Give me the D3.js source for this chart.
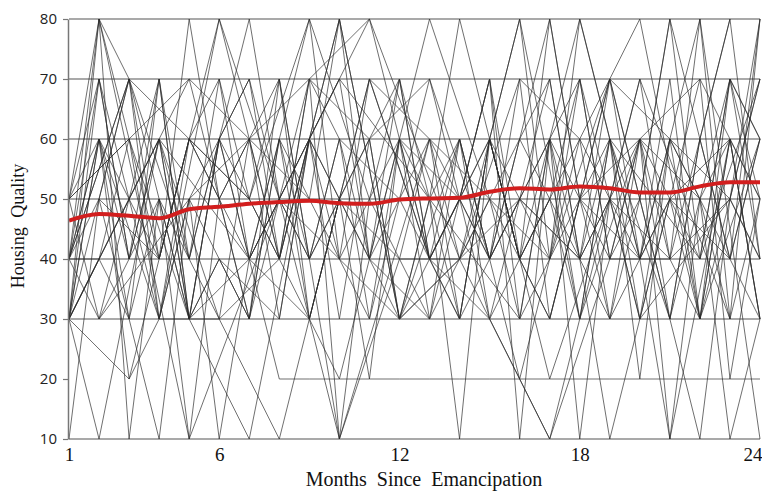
<!DOCTYPE html>
<html>
<head>
<meta charset="utf-8">
<script src="https://cdn.jsdelivr.net/npm/d3@7"></script>
<style>
    body { margin: 0; background: #fff; }
    svg { display: block; }
</style>
</head>
<body>
<svg id="chart"></svg>
<script>
const xTicks = [1, 6, 12, 18, 24];
const yTicks = [10, 20, 30, 40, 50, 60, 70, 80];
const gridValues = [10, 30, 40, 50, 60, 70, 80];

// smoothed mean (red line), month 1..24
const meanQuality = [46.4, 47.5, 47.2, 46.8, 48.3, 48.7, 49.2, 49.5, 49.7, 49.3, 49.2, 49.9,
    50.1, 50.2, 51.2, 51.8, 51.6, 52.1, 51.8, 51.1, 51.1, 52.1, 52.8, 52.8];

// individual youth trajectories, month 1..24 (null = not observed)
const subjects = [
    [50, 80, 70, 40, 60, 50, null, 70, 40, 60, null, 50, 70, null, 40, 60, 80, 50, null, 40, 70, 30, 60, 50],
    [30, 10, null, 60, 40, 70, 50, null, 80, 40, 30, 60, null, 50, 70, 40, null, 60, 30, 50, 80, 40, 70, 60],
    [40, 60, 30, 10, 50, null, 60, 40, 70, 10, null, 40, 60, 30, null, 50, 70, 40, 60, null, 30, 60, 40, 80],
    [10, 50, 70, null, 40, 30, 60, null, 50, 80, 40, null, 30, 60, 40, 70, 30, 50, null, 60, 40, 80, 30, 50],
    [40, 60, 20, 30, 60, null, 50, 70, 30, 20, 40, 30, 50, 80, null, 40, 60, 10, 50, 30, 60, 50, 70, 40],
    [30, 60, 40, 70, 30, 40, null, 30, 60, 40, 70, null, 40, 30, 60, 80, 40, 70, 40, 60, 10, 50, 40, 60],
    [40, 30, 50, 40, 80, 50, 30, 60, 40, null, 60, 70, 40, 60, 30, 50, null, 40, 70, 50, 30, 60, 80, 40],
    [50, 70, 40, 60, 30, 60, 80, 50, null, 70, 40, 50, 60, 40, 50, 30, 60, 40, 50, 70, 40, 30, 50, 70],
    [30, 40, 60, 30, 50, 10, 40, 60, 30, 50, 20, 60, 30, 50, 40, 60, 50, 30, 60, 40, 50, 70, 20, 50],
    [40, 50, 30, 50, 40, 60, 40, 20, 20, 20, 20, 20, 20, 20, 20, 20, 20, 20, 20, 20, 20, 20, 20, 20],
    [50, null, 60, null, 70, null, 60, null, 70, null, 60, null, 70, null, 30, null, 50, null, 30, null, 50, null, 60, 30],
    [30, 70, null, 30, null, 80, null, 50, null, 40, null, 30, null, 40, null, 50, null, 40, null, 60, null, 70, null, 50],
    [40, 80, 10, 50, 30, 60, 50, 40, 70, 60, 40, 60, 50, 10, 60, 40, 50, 70, 40, 60, 50, 30, 60, 30],
    [50, null, 60, null, 30, null, 40, null, 80, null, 50, null, 30, null, 50, null, 40, null, 70, null, 60, null, 50, 70],
    [30, 50, 70, 30, 50, 40, 30, 70, 40, 10, 50, 60, 40, 50, 70, 30, 60, 50, 40, 50, 80, 60, 40, 30],
    [40, 70, 40, 50, 10, 50, 60, 30, 60, 50, 40, 70, 50, 30, 60, 50, 40, 80, 60, 40, 60, 30, 70, 60],
    [30, null, 50, null, 70, null, 30, null, 70, null, 80, null, 40, null, 30, null, 10, null, 40, null, 40, null, 50, 40],
    [50, 60, null, 30, null, 30, null, 40, null, 80, null, 30, null, 40, null, 80, null, 30, null, 60, null, 50, 10, 30],
    [40, null, 70, null, 60, null, 40, null, 30, null, 70, null, 60, null, 50, null, 70, null, 10, null, 50, null, 40, 60],
    [30, 40, 30, 70, 40, 60, 70, 40, 60, 30, 60, 30, 50, 60, 40, 50, 60, 30, 60, 20, 60, 50, 30, 80],
    [50, 30, 40, 60, 30, 40, 30, 60, 50, 40, 50, 70, 40, 30, 60, 40, 80, 50, 30, 60, 30, 10, 50, 40],
    [30, null, null, 60, null, null, 40, null, null, 70, null, null, 50, null, null, 30, null, null, 60, null, null, 40, null, 70],
    [null, 80, null, null, 10, null, null, 50, null, null, 80, null, null, 40, null, null, 10, null, null, 70, null, null, 30, null],
    [40, null, 70, null, 30, null, 10, null, 60, null, 40, null, 80, null, 50, null, 30, null, 70, null, 10, null, 60, null],
    [null, 50, null, 40, null, 80, null, 40, null, 80, null, 30, null, 60, null, 20, null, 60, null, 40, null, 80, null, 10],
    [30, null, 20, null, 60, null, 50, null, 30, null, 70, null, 40, null, 60, null, 20, null, 50, null, 40, null, 80, null],
    [null, 30, null, null, 50, null, 70, null, null, 10, null, null, 60, null, 40, null, null, 70, null, 30, null, null, 50, 80],
    [30, 60, 50, 70, 30, 60, 40, 50, 40, 50, 60, 30, 40, 50, 70, 10, 60, 80, 60, 30, 50, 40, 70, 50],
    [30, 80, 60, 40, 60, 70, 40, 50, 40, 60, 30, 50, 40, 50, 60, 40, 30, 50, 70, 50, 30, 50, 60, 30],
    [40, 40, null, 60, null, 30, null, 10, null, 50, null, 40, null, 40, null, 70, null, 60, null, 80, null, 30, null, 60]
];

const svgWidth = 762;
const svgHeight = 492;

const xScale = d3.scaleLinear().domain([1, 24]).range([69, 760]);
const yScale = d3.scaleLinear().domain([10, 80]).range([439, 19]);

const svg = d3.select("#chart")
    .attr("width", svgWidth)
    .attr("height", svgHeight);

// horizontal reference lines
svg.selectAll(".grid")
    .data(gridValues)
    .enter()
    .append("line")
    .attr("class", "grid")
    .attr("x1", xScale(1))
    .attr("x2", xScale(24))
    .attr("y1", d => yScale(d))
    .attr("y2", d => yScale(d))
    .attr("stroke", "#8c8c8c")
    .attr("stroke-width", 1.6);

const line = d3.line()
    .x(d => xScale(d.month))
    .y(d => yScale(d.value));

svg.selectAll(".subject")
    .data(subjects)
    .enter()
    .append("path")
    .attr("class", "subject")
    .attr("d", s => line(s.map((v, i) => ({ month: i + 1, value: v })).filter(p => p.value !== null)))
    .attr("fill", "none")
    .attr("stroke", "#2a2a2a")
    .attr("stroke-width", 0.85)
    .attr("stroke-opacity", 0.8);

// mean trend
const meanLine = d3.line()
    .x((d, i) => xScale(i + 1))
    .y(d => yScale(d))
    .curve(d3.curveMonotoneX);

svg.append("path")
    .datum(meanQuality)
    .attr("d", meanLine)
    .attr("fill", "none")
    .attr("stroke", "#d21e1e")
    .attr("stroke-width", 4);

// axes
const yAxis = svg.append("g")
    .attr("transform", "translate(68, 0)")
    .call(d3.axisLeft(yScale).tickValues(yTicks).tickSize(5).tickPadding(6).tickSizeOuter(0));

yAxis.select(".domain").attr("stroke", "#777").attr("stroke-width", 1.5);
yAxis.selectAll(".tick line").attr("stroke", "#777").attr("stroke-width", 1.2);
yAxis.selectAll("text")
    .attr("fill", "#222")
    .style("font-family", "'Open Sans', sans-serif")
    .style("font-size", "15px");

const xAxis = svg.append("g")
    .attr("transform", `translate(0, ${yScale(10)})`)
    .call(d3.axisBottom(xScale).tickValues(xTicks).tickSize(0).tickPadding(9).tickFormat(d3.format("d")));

xAxis.select(".domain").remove();
xAxis.selectAll("text")
    .attr("fill", "#111")
    .style("font-family", "'Liberation Serif', 'Times New Roman', serif")
    .style("font-size", "19px");

// last label sits against the right edge
xAxis.selectAll(".tick")
    .filter(d => d === 24)
    .select("text")
    .attr("text-anchor", "end")
    .attr("x", 2);

svg.append("text")
    .attr("x", 424)
    .attr("y", 486)
    .attr("text-anchor", "middle")
    .style("font-family", "'Liberation Serif', 'Times New Roman', serif")
    .style("font-size", "20px")
    .style("word-spacing", "5px")
    .attr("fill", "#111")
    .text("Months Since Emancipation");

svg.append("text")
    .attr("transform", "translate(24, 226) rotate(-90)")
    .attr("text-anchor", "middle")
    .style("font-family", "'Liberation Serif', 'Times New Roman', serif")
    .style("font-size", "18px")
    .style("word-spacing", "5px")
    .attr("fill", "#111")
    .text("Housing Quality");
</script>
</body>
</html>
